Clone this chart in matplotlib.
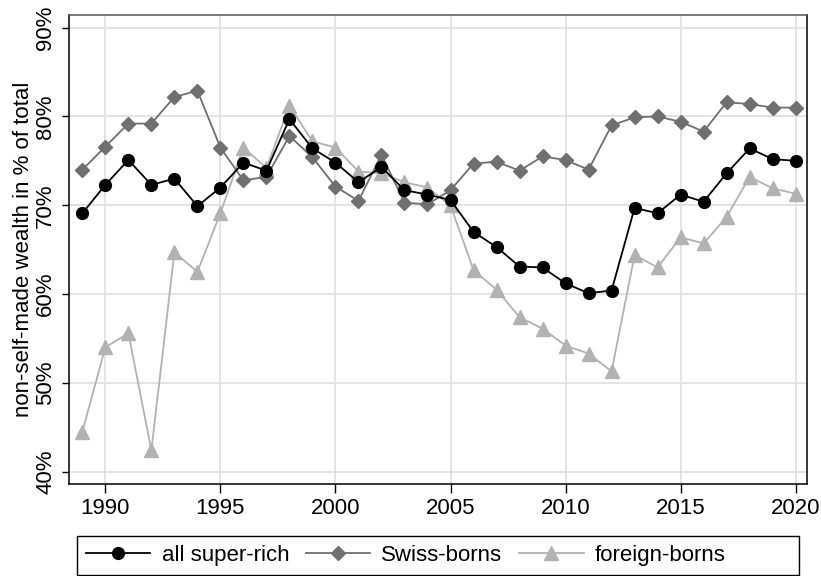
import numpy as np
import matplotlib
matplotlib.use("Agg")
import matplotlib.pyplot as plt
from matplotlib.patches import Rectangle

plt.rcParams['font.family'] = ['Liberation Sans', 'DejaVu Sans']

# Jahre und Anteile (in %)
jahre = list(range(1989, 2021))

alle = [69.1, 72.3, 75.1, 72.3, 73.0, 69.9, 72.0, 74.8, 73.9, 79.7,
        76.4, 74.8, 72.6, 74.3, 71.7, 71.2, 70.6, 67.0, 65.3, 63.1,
        63.0, 61.2, 60.1, 60.4, 69.7, 69.1, 71.2, 70.4, 73.6, 76.4,
        75.2, 75.0]

schweizer = [74.0, 76.6, 79.2, 79.2, 82.2, 82.9, 76.5, 72.8, 73.2, 77.8,
             75.4, 72.1, 70.5, 75.7, 70.3, 70.1, 71.7, 74.7, 74.9, 73.9,
             75.5, 75.1, 74.0, 79.0, 79.9, 80.0, 79.4, 78.3, 81.6, 81.4,
             81.0, 81.0]

ausland = [44.5, 54.0, 55.6, 42.4, 64.7, 62.5, 69.1, 76.5, 74.2, 81.2,
           77.2, 76.5, 73.8, 73.6, 72.6, 72.0, 70.0, 62.7, 60.5, 57.4,
           56.1, 54.2, 53.3, 51.3, 64.4, 63.0, 66.4, 65.7, 68.7, 73.2,
           71.9, 71.3]

namen = ["all super-rich", "Swiss-borns", "foreign-borns"]

fs = 16
W, H = 821, 576

fig = plt.figure(figsize=(W / 100, H / 100), dpi=100)
ax = fig.add_axes([69 / W, 1 - 484.3 / H, (806.7 - 69) / W, (484.3 - 14.7) / H])

ax.plot(jahre, alle, color='black', lw=1.3, marker='o', ms=8.5,
        label=namen[0], zorder=5)
ax.plot(jahre, schweizer, color='#6f6f6f', lw=1.3, marker='D', ms=7.5,
        label=namen[1], zorder=4)
ax.plot(jahre, ausland, color='#b2b2b2', lw=1.3, marker='^', ms=9.5,
        label=namen[2], zorder=3)

ax.set_xlim(1988.42, 2020.48)
ax.set_ylim(38.58, 91.46)
ax.set_xticks(range(1990, 2021, 5))
ax.set_yticks(range(40, 91, 10))
ax.set_yticklabels([f"{v}%" for v in range(40, 91, 10)])
ax.grid(True, color='#dedede', lw=1.2)
ax.set_axisbelow(True)

ax.tick_params(axis='both', labelsize=fs, color='black', width=1.0)
ax.tick_params(axis='x', length=6.5, pad=3.5)
ax.tick_params(axis='y', length=5.3, pad=4)
plt.setp(ax.get_yticklabels(), rotation=90, va='center')

for s in ['left', 'bottom', 'right']:
    ax.spines[s].set_color('black')
    ax.spines[s].set_linewidth(1.1)
ax.spines['top'].set_color('#555555')
ax.spines['top'].set_linewidth(1.1)

ax.set_ylabel("non-self-made wealth in % of total", fontsize=fs, labelpad=1)

# Legende ohne eigenen Rahmen, Rahmen als Rechteck unter dem Plot
fig.patches.append(Rectangle((77 / W, 1 - 575 / H), 722 / W, 39 / H,
                             transform=fig.transFigure, fill=False,
                             edgecolor='black', lw=1.0))
leg = ax.legend(loc='center left', ncol=3,
                bbox_to_anchor=(86 / W, 1 - 555.5 / H),
                bbox_transform=fig.transFigure, fontsize=fs,
                handlelength=2.9, handletextpad=0.5, columnspacing=0.75,
                borderaxespad=0, borderpad=0, frameon=False)

fig.savefig("out.png", dpi=100)
